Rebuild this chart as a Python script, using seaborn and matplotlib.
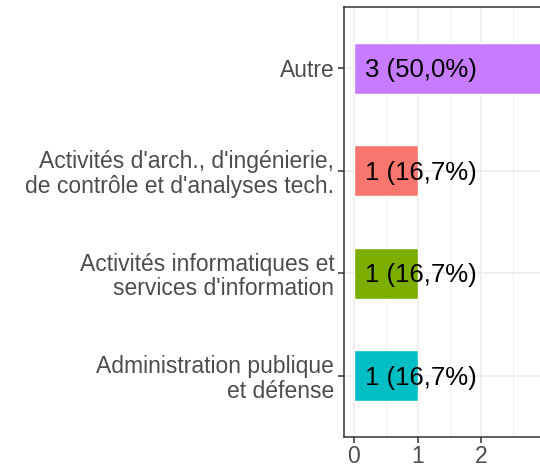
import numpy as np
import pandas as pd
import matplotlib
matplotlib.use("Agg")
import matplotlib.pyplot as plt
from matplotlib.ticker import MultipleLocator
import seaborn as sns

# data
categories = [
    "Autre",
    "Activités d'arch., d'ingénierie,\nde contrôle et d'analyses tech.",
    "Activités informatiques et\nservices d'information",
    "Administration publique\net défense",
]
counts = [3, 1, 1, 1]
colors = ["#C77CFF", "#F8766D", "#7CAE00", "#00BFC4"]

total = sum(counts)
labels = [f"{n} ({100 * n / total:.1f}%)".replace(".", ",") for n in counts]
df = pd.DataFrame({"cat": categories, "n": counts})

sns.set_style("white")
plt.rcParams["font.family"] = ["Liberation Sans", "DejaVu Sans"]

fig = plt.figure(figsize=(5.4, 4.7), dpi=100)
ax = fig.add_axes([344 / 540, 1 - 437 / 470, (555 - 344) / 540, (437 - 7) / 470])

sns.barplot(data=df, x="n", y="cat", hue="cat", palette=colors, order=categories,
            width=0.5, legend=False, ax=ax, saturation=1, zorder=2)

# value labels
for i, (n, lab) in enumerate(zip(counts, labels)):
    ax.text(0.18, i + 0.02, lab, ha="left", va="center", fontsize=18.5, color="black", zorder=3)

ax.set_xlim(-0.15, 3.15)
ax.set_ylim(3.6, -0.6)
ax.xaxis.set_major_locator(MultipleLocator(1))
ax.xaxis.set_minor_locator(MultipleLocator(0.5))
ax.grid(True, which="major", color="#EBEBEB", linewidth=1.1, zorder=0)
ax.grid(True, which="minor", axis="x", color="#EBEBEB", linewidth=0.55, zorder=0)
ax.set_axisbelow(True)

for s in ax.spines.values():
    s.set_visible(True)
    s.set_color("#333333")
    s.set_linewidth(1.1)

ax.tick_params(axis="both", which="major", length=4, width=1.1, color="#333333",
               labelsize=16.5, labelcolor="#4D4D4D", pad=3, left=True, bottom=True)
ax.tick_params(axis="x", which="major", pad=1.5)
ax.tick_params(axis="x", which="minor", length=0)
ax.set_yticks(range(len(categories)))
ax.set_yticklabels(categories, linespacing=1.1)
ax.set_xlabel("")
ax.set_ylabel("")

fig.savefig("out.png", dpi=100)
